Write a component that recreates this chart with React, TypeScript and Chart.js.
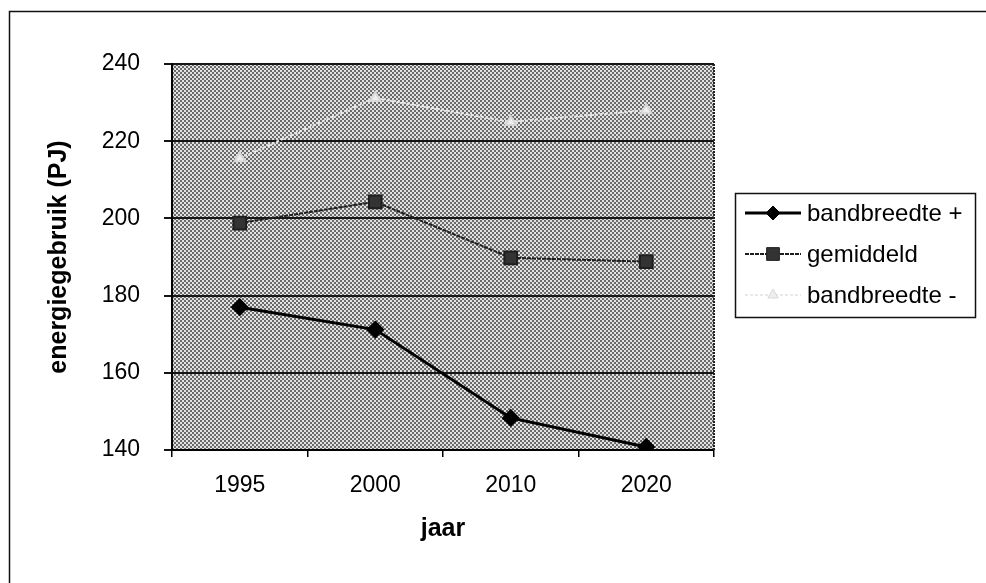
import React, { useEffect, useRef } from "react";
import { Chart, registerables } from "chart.js";
import { drawPoint } from "chart.js/helpers";

Chart.register(...registerables);

const categories = ["1995", "2000", "2010", "2020"];
const seriesNames = ["bandbreedte +", "gemiddeld", "bandbreedte -"];
const bandPlus = [177, 171.2, 148.3, 140.8];
const gemiddeld = [198.8, 204.3, 189.8, 188.8];
const bandMin = [215.6, 231.2, 225, 228];
const yMin = 140;
const yMax = 240;
const yStep = 20;
const yTitle = "energiegebruik (PJ)";
const xTitle = "jaar";

const FONT = "'Liberation Sans', Arial, Helvetica, sans-serif";

function makePattern(): CanvasPattern | string {
  const c = document.createElement("canvas");
  c.width = 4;
  c.height = 4;
  const g = c.getContext("2d");
  if (!g) return "#a8a8a8";
  g.fillStyle = "#e2e2e2";
  g.fillRect(0, 0, 4, 4);
  g.fillStyle = "#6a6a6a";
  g.fillRect(0, 0, 2, 2);
  g.fillRect(2, 2, 2, 2);
  const p = g.createPattern(c, "repeat");
  return p || "#a8a8a8";
}

export default function App() {
  const ref = useRef<HTMLCanvasElement | null>(null);

  useEffect(() => {
    const canvas = ref.current;
    if (!canvas) return;
    const pattern = makePattern();

    const bgPlugin = {
      id: "bgPlugin",
      beforeDraw(chart: any) {
        const { ctx, chartArea } = chart;
        ctx.save();
        ctx.fillStyle = "#ffffff";
        ctx.fillRect(0, 0, chart.width, chart.height);
        // outer frame (right and bottom edges lie outside the picture)
        ctx.strokeStyle = "#111";
        ctx.lineWidth = 1.5;
        ctx.strokeRect(9.5, 11.5, 1000, 620);
        ctx.fillStyle = pattern as any;
        ctx.fillRect(
          chartArea.left,
          chartArea.top,
          chartArea.right - chartArea.left,
          chartArea.bottom - chartArea.top
        );
        ctx.restore();
      },
      beforeDatasetsDraw(chart: any) {
        const { ctx, chartArea } = chart;
        ctx.save();
        ctx.strokeStyle = "#222";
        ctx.lineWidth = 2;
        ctx.setLineDash([2, 1]);
        ctx.beginPath();
        ctx.moveTo(chartArea.right, chartArea.top);
        ctx.lineTo(chartArea.right, chartArea.bottom);
        ctx.stroke();
        ctx.restore();
      },
      afterDraw(chart: any) {
        const { ctx } = chart;
        const bx = 735,
          by = 193,
          bw = 240,
          bh = 124;
        ctx.save();
        ctx.fillStyle = "#ffffff";
        ctx.fillRect(bx, by, bw, bh);
        ctx.strokeStyle = "#111";
        ctx.lineWidth = 1.5;
        ctx.strokeRect(bx + 0.5, by + 0.5, bw, bh);
        const rows = [213, 254, 295];
        chart.data.datasets.forEach((ds: any, i: number) => {
          const y = rows[i];
          ctx.save();
          ctx.strokeStyle = ds.borderColor;
          ctx.lineWidth = ds.borderWidth;
          ctx.setLineDash(ds.borderDash || []);
          ctx.beginPath();
          ctx.moveTo(745, y);
          ctx.lineTo(801, y);
          ctx.stroke();
          ctx.setLineDash([]);
          ctx.fillStyle = ds.pointBackgroundColor;
          ctx.strokeStyle = ds.pointBorderColor;
          ctx.lineWidth = 1;
          drawPoint(ctx, { pointStyle: ds.pointStyle, radius: ds.pointRadius, rotation: 0, borderWidth: 1 } as any, 773, y);
          ctx.restore();
          ctx.fillStyle = "#000";
          ctx.font = `24px ${FONT}`;
          ctx.textBaseline = "middle";
          ctx.textAlign = "left";
          ctx.fillText(ds.label, 807, y + 1);
        });
        ctx.restore();
      },
    };

    const chart = new Chart(canvas, {
      type: "line",
      data: {
        labels: categories,
        datasets: [
          {
            label: seriesNames[0],
            data: bandPlus,
            borderColor: "#000000",
            borderWidth: 3,
            pointStyle: "rectRot",
            pointRadius: 7,
            pointBackgroundColor: "#000000",
            pointBorderColor: "#000000",
            tension: 0,
          },
          {
            label: seriesNames[1],
            data: gemiddeld,
            borderColor: "#1e1e1e",
            borderWidth: 2,
            borderDash: [4, 1],
            pointStyle: "rect",
            pointRadius: 9,
            pointBackgroundColor: "#333333",
            pointBorderColor: "#1e1e1e",
            tension: 0,
          },
          {
            label: seriesNames[2],
            data: bandMin,
            borderColor: "#e8e8e8",
            borderWidth: 2,
            borderDash: [3, 2],
            pointStyle: "triangle",
            pointRadius: 6,
            pointBackgroundColor: "#eeeeee",
            pointBorderColor: "#d8d8d8",
            tension: 0,
          },
        ],
      },
      options: {
        animation: false,
        responsive: false,
        maintainAspectRatio: false,
        layout: { padding: { left: 0, top: 64, right: 272, bottom: 0 } },
        plugins: {
          legend: { display: false },
          tooltip: { enabled: false },
        },
        scales: {
          x: {
            type: "category",
            offset: true,
            grid: {
              offset: true,
              drawOnChartArea: false,
              drawTicks: true,
              tickLength: 7,
              color: "#000",
              lineWidth: 1.5,
            },
            border: { display: true, color: "#000", width: 2 },
            ticks: {
              color: "#000",
              font: { family: FONT, size: 23 },
              padding: 15,
              maxRotation: 0,
            },
            title: {
              display: true,
              text: xTitle,
              color: "#000",
              font: { family: FONT, size: 25, weight: "bold" },
              padding: { top: 0, bottom: 39 },
            },
            afterFit(scale: any) {
              scale.height = 133;
            },
          },
          y: {
            min: yMin,
            max: yMax,
            grid: {
              drawOnChartArea: true,
              drawTicks: true,
              tickLength: 8,
              color: "#151515",
              lineWidth: 2,
            },
            border: { display: true, color: "#000", width: 2 },
            ticks: {
              stepSize: yStep,
              color: "#000",
              font: { family: FONT, size: 23 },
              padding: 24,
            },
            title: {
              display: true,
              text: yTitle,
              color: "#000",
              font: { family: FONT, size: 25, weight: "bold" },
              padding: { top: 44, bottom: 0 },
            },
            afterFit(scale: any) {
              scale.width = 172;
            },
          },
        },
      },
      plugins: [bgPlugin],
    } as any);

    return () => {
      chart.destroy();
    };
  }, []);

  return (
    <div style={{ position: "fixed", left: 0, top: 0, width: 986, height: 583, background: "#fff" }}>
      <canvas ref={ref} width={986} height={583} style={{ width: 986, height: 583, display: "block" }} />
    </div>
  );
}
